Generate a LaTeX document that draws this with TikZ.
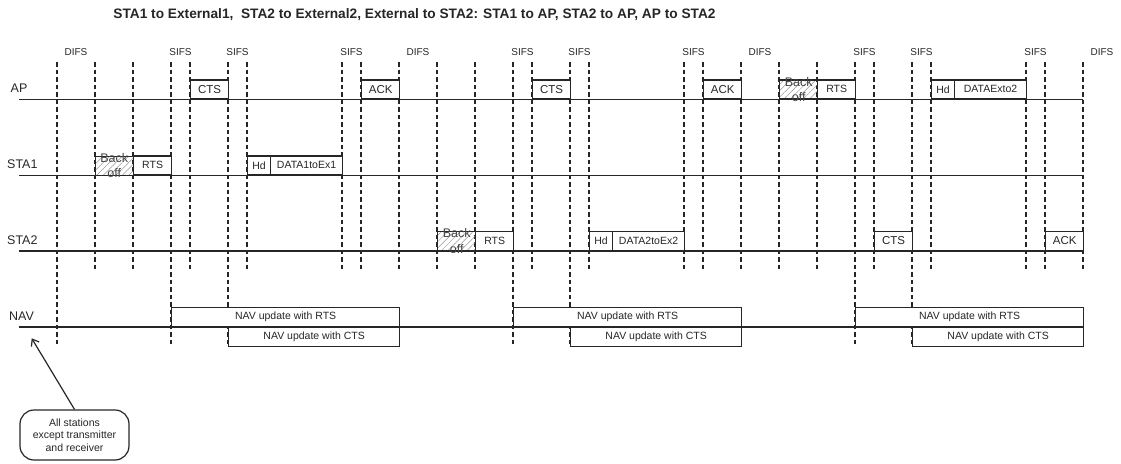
\documentclass[tikz,border=0pt]{standalone}
\usepackage{fontspec}
\setmainfont{Liberation Sans}
\usetikzlibrary{patterns.meta,arrows.meta}
\definecolor{ink}{gray}{0.15}
\tikzset{
  tl/.style={draw=ink, line width=1.2pt, dash pattern=on 4.5pt off 3pt},
  rowline/.style={draw=ink, line width=1.3pt},
  pktbox/.style={draw=ink, fill=white, line width=1.3pt, inner sep=0pt, minimum height=19pt, anchor=south west, font=\fontsize{10.5}{12}\selectfont, text=ink},
  big/.style={font=\fontsize{11.5}{13}\selectfont},
  hatch/.style={fill=none, pattern={Lines[angle=45,distance=4.5pt,line width=0.5pt]}, pattern color=gray!80},
  botext/.style={font=\fontsize{12.5}{15.5}\selectfont, align=center, text=ink!85, inner sep=0pt},
  gaplab/.style={font=\fontsize{10}{12}\selectfont, text=ink},
  rowlab/.style={font=\fontsize{12.5}{14}\selectfont, anchor=base west, text=ink, inner sep=0pt},
}
\newcommand\pkt[6]{\node[pktbox,#5,minimum width={(#3-#2)*19pt}] (#1) at ({57+19*#2},#4) {#6};}
\begin{document}
\begin{tikzpicture}[x=1pt,y=-1pt]
\useasboundingbox (0,0) rectangle (1121,463);
% title
\node[font=\bfseries\fontsize{13.7}{16}\selectfont, text=ink] (title) at (414.5,15) {STA1 to External1,\ \ STA2 to External2, External to STA2: STA1 to AP, STA2 to AP, AP to STA2};
% timing lines
\foreach \u in {2,4,7,10,15,16,18,20,22,25,28,33,34,36,38,40,43,46,51,52,54}
  \draw[tl] ({57+19*\u},62) -- ({57+19*\u},270);
\foreach \u in {0,6,9,24,27,42,45}
  \draw[tl] ({57+19*\u},62) -- ({57+19*\u},347);
% interval labels
\foreach \u in {1,19,37,55}
  \node[gaplab] at ({57+19*\u},51.7) {DIFS};
\foreach \u in {6.5,9.5,15.5,24.5,27.5,33.5,42.5,45.5,51.5}
  \node[gaplab] at ({57+19*\u},51.7) {SIFS};
% row lines and labels
\node[rowlab] (lAP) at (10.5,92) {AP};
\node[rowlab] (lS1) at (7,168.5) {STA1};
\node[rowlab] (lS2) at (7,244) {STA2};
\node[rowlab] (lNAV) at (9,320) {NAV};
\draw[rowline] (19,99.5) -- (1083,99.5);
\draw[rowline] (19,175.5) -- (1083,175.5);
\draw[rowline] (19,251) -- (1083,251);
% cycle 1
\pkt{bo1}{2}{4}{175.5}{hatch}{}
\node[botext] (bo1t) at (bo1.center) {Back\\off};
\pkt{rts1}{4}{6}{175.5}{}{RTS}
\pkt{cts1}{7}{9}{99.5}{big}{CTS}
\pkt{hd1}{10}{11.2}{175.5}{}{Hd}
\pkt{data1}{11.2}{15}{175.5}{}{DATA1toEx1}
\pkt{ack1}{16}{18}{99.5}{big}{ACK}
% cycle 2
\pkt{bo2}{20}{22}{251}{hatch}{}
\node[botext] (bo2t) at (bo2.center) {Back\\off};
\pkt{rts2}{22}{24}{251}{}{RTS}
\pkt{cts2}{25}{27}{99.5}{big}{CTS}
\pkt{hd2}{28}{29.2}{251}{}{Hd}
\pkt{data2}{29.2}{33}{251}{}{DATA2toEx2}
\pkt{ack2}{34}{36}{99.5}{big}{ACK}
% cycle 3
\pkt{bo3}{38}{40}{99.5}{hatch}{}
\node[botext] (bo3t) at (bo3.center) {Back\\off};
\pkt{rts3}{40}{42}{99.5}{}{RTS}
\pkt{cts3}{43}{45}{251}{big}{CTS}
\pkt{hd3}{46}{47.2}{99.5}{}{Hd}
\pkt{data3}{47.2}{51}{99.5}{}{DATAExto2}
\pkt{ack3}{52}{54}{251}{big}{ACK}
% NAV
\pkt{navr1}{6}{18}{327}{}{NAV update with RTS}
\pkt{navc1}{9}{18}{327}{anchor=north west}{NAV update with CTS}
\pkt{navr2}{24}{36}{327}{}{NAV update with RTS}
\pkt{navc2}{27}{36}{327}{anchor=north west}{NAV update with CTS}
\pkt{navr3}{42}{54}{327}{}{NAV update with RTS}
\pkt{navc3}{45}{54}{327}{anchor=north west}{NAV update with CTS}
\draw[rowline] (19,327) -- (1083,327);
% callout
\node[draw=ink, line width=1.2pt, rounded corners=14pt, minimum width=109pt, minimum height=50pt, align=center, inner sep=0pt, font=\fontsize{10.5}{12.5}\selectfont, text=ink] (note) at (74.5,435) {All stations\\except transmitter\\and receiver};
\coordinate (navpt) at (31.7,338.3);
\draw[draw=ink, line width=1.2pt, -{Straight Barb[length=6pt,width=9pt]}] (note.north) -- (navpt);
\end{tikzpicture}
\end{document}
